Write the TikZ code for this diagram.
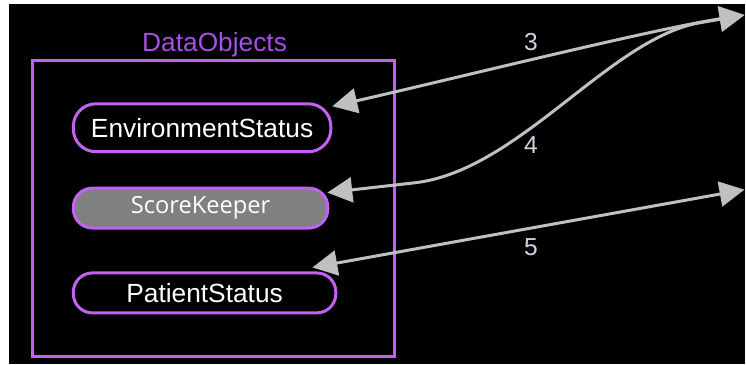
\documentclass[tikz,border=0pt]{standalone}
\usepackage{fontspec}
\setmainfont{Liberation Sans}
\newfontfamily\skfont{Open Sans}
\usetikzlibrary{arrows.meta}
\definecolor{dopurple}{RGB}{196,96,244}
\definecolor{titlepurple}{RGB}{165,80,230}
\definecolor{linkgray}{RGB}{192,192,192}
\definecolor{numgray}{RGB}{205,212,228}
\definecolor{skgray}{RGB}{128,128,128}

\begin{document}
\begin{tikzpicture}[x=0.02cm, y=-0.02cm,
  objnode/.style={draw=dopurple, line width=0.6mm, text=white, inner sep=0pt,
    font=\fontsize{15}{18}\selectfont},
  link/.style={linkgray, line width=0.6mm,
    {Triangle[length=5mm,width=5mm]}-{Triangle[length=5mm,width=5mm]}},
  linknum/.style={text=numgray, font=\fontsize{14}{16}\selectfont}]

% background
{
\useasboundingbox (0,0) rectangle (746,365);
\fill[white] (0,0) rectangle (746,365);
\fill[black] (9,4) rectangle (746,365);
}

% frame
{
\node[draw=dopurple, line width=0.6mm, minimum width=7.26cm, minimum height=5.94cm] (dataobjects) at (214,209) {};
\node[text=titlepurple, font=\fontsize{15}{18}\selectfont] (title) at (215,45) {DataObjects};
}

% objects
{
\node[objnode, minimum width=5.16cm, minimum height=0.96cm, rounded corners=0.45cm] (env) at (202.5,128) {EnvironmentStatus};
\node[objnode, fill=skgray, minimum width=5.1cm, minimum height=0.8cm, rounded corners=0.38cm,
  font=\skfont\fontsize{13.5}{16}\selectfont] (score) at (201,208.5) {ScoreKeeper};
\node[objnode, minimum width=5.26cm, minimum height=0.8cm, rounded corners=0.38cm] (patient) at (205,293.5) {PatientStatus};
}

% links
{
\coordinate (ext1) at (746,15);
\coordinate (ext2) at (746,190);

\draw[link] (ext1) .. controls (650,30) and (450,80) .. ([yshift=-0.08cm]env.north east);
\draw[link] (ext1) -- (700,23) .. controls (610,40) and (520,170) .. (417,183) -- ([xshift=-0.04cm,yshift=-0.12cm]score.north east);
\draw[link] (ext2) -- ([xshift=-0.5cm,yshift=0.08cm]patient.north east);
}

% labellings
{
\node[linknum] (num3) at (532,42) {3};
\node[linknum] (num4) at (532,145) {4};
\node[linknum] (num5) at (532,248) {5};
}

\end{tikzpicture}
\end{document}
